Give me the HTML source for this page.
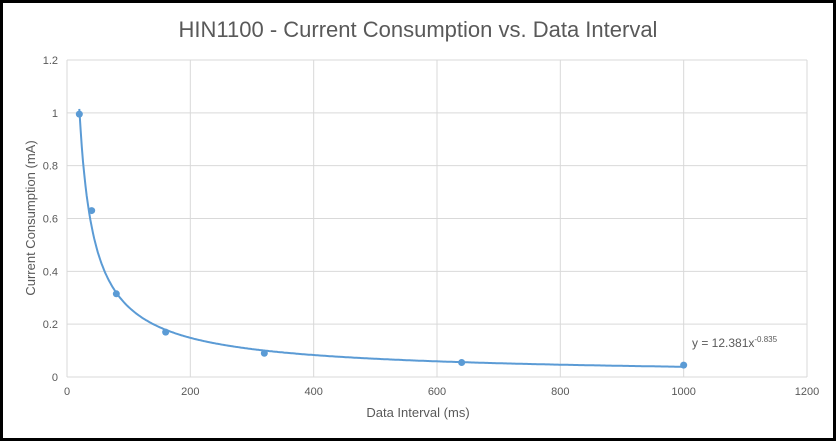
<!DOCTYPE html>
<html><head><meta charset="utf-8"><style>
html,body{margin:0;padding:0;background:#fff}
svg{display:block;font-family:"Liberation Sans",sans-serif}
</style></head><body>
<svg width="836" height="441" viewBox="0 0 836 441">
<rect x="1.5" y="1.5" width="833" height="438" fill="#fff" stroke="#000" stroke-width="3"/>
<text x="418" y="37" text-anchor="middle" font-size="22" fill="#595959">HIN1100 - Current Consumption vs. Data Interval</text>
<g id="grid"></g>
<g id="marks"></g>
<text x="418" y="417" text-anchor="middle" font-size="13" fill="#595959">Data Interval (ms)</text>
<text transform="translate(35,218) rotate(-90)" text-anchor="middle" font-size="13" fill="#595959">Current Consumption (mA)</text>
<text x="692" y="347" font-size="12" fill="#595959">y = 12.381x<tspan dy="-5" font-size="8">-0.835</tspan></text>
</svg>
<script>
const xValues=[20,40,80,160,320,640,1000];
const yValues=[0.995,0.63,0.315,0.17,0.09,0.055,0.045];
const xTicks=[0,200,400,600,800,1000,1200];
const yTicks=[0,0.2,0.4,0.6,0.8,1,1.2];
const yTickLabels=["0","0.2","0.4","0.6","0.8","1","1.2"];
const trendCoef=12.381, trendExp=-0.835;
const X0=67,X1=807,Y0=377,Y1=60;
const sx=v=>X0+(v/1200)*(X1-X0);
const sy=v=>Y0-(v/1.2)*(Y0-Y1);
const NS="http://www.w3.org/2000/svg";
const g=document.getElementById('grid'),m=document.getElementById('marks');
function mk(tag,attrs,parent){const e=document.createElementNS(NS,tag);for(const k in attrs)e.setAttribute(k,attrs[k]);parent.appendChild(e);return e;}
yTicks.forEach((t,i)=>{
 const l=mk('line',{x1:X0,x2:X1,y1:sy(t),y2:sy(t),stroke:'#d9d9d9','stroke-width':1},g);
 
 
 const tx=mk('text',{x:X0-9,y:sy(t)+4,'text-anchor':'end','font-size':11,fill:'#595959'},g);
 tx.textContent=yTickLabels[i];
 
 
});
xTicks.forEach(t=>{
 const l=mk('line',{x1:sx(t),x2:sx(t),y1:Y1,y2:Y0,stroke:'#d9d9d9','stroke-width':1},g);
 
 
 const tx=mk('text',{x:sx(t),y:Y0+18,'text-anchor':'middle','font-size':11,fill:'#595959'},g);
 tx.textContent=String(t);
 
 
});
let d='';
for(let x=xValues[0];x<=xValues[xValues.length-1];x+=2){d+=(d?'L':'M')+sx(x).toFixed(1)+','+sy(trendCoef*Math.pow(x,trendExp)).toFixed(1);}
const tl=mk('path',{d:d,fill:'none',stroke:'#5b9bd5','stroke-width':2},m);


xValues.forEach((x,i)=>{
 const c=mk('circle',{cx:sx(x),cy:sy(yValues[i]),r:3.5,fill:'#5b9bd5'},m);
 
 
});
</script>
</body></html>
